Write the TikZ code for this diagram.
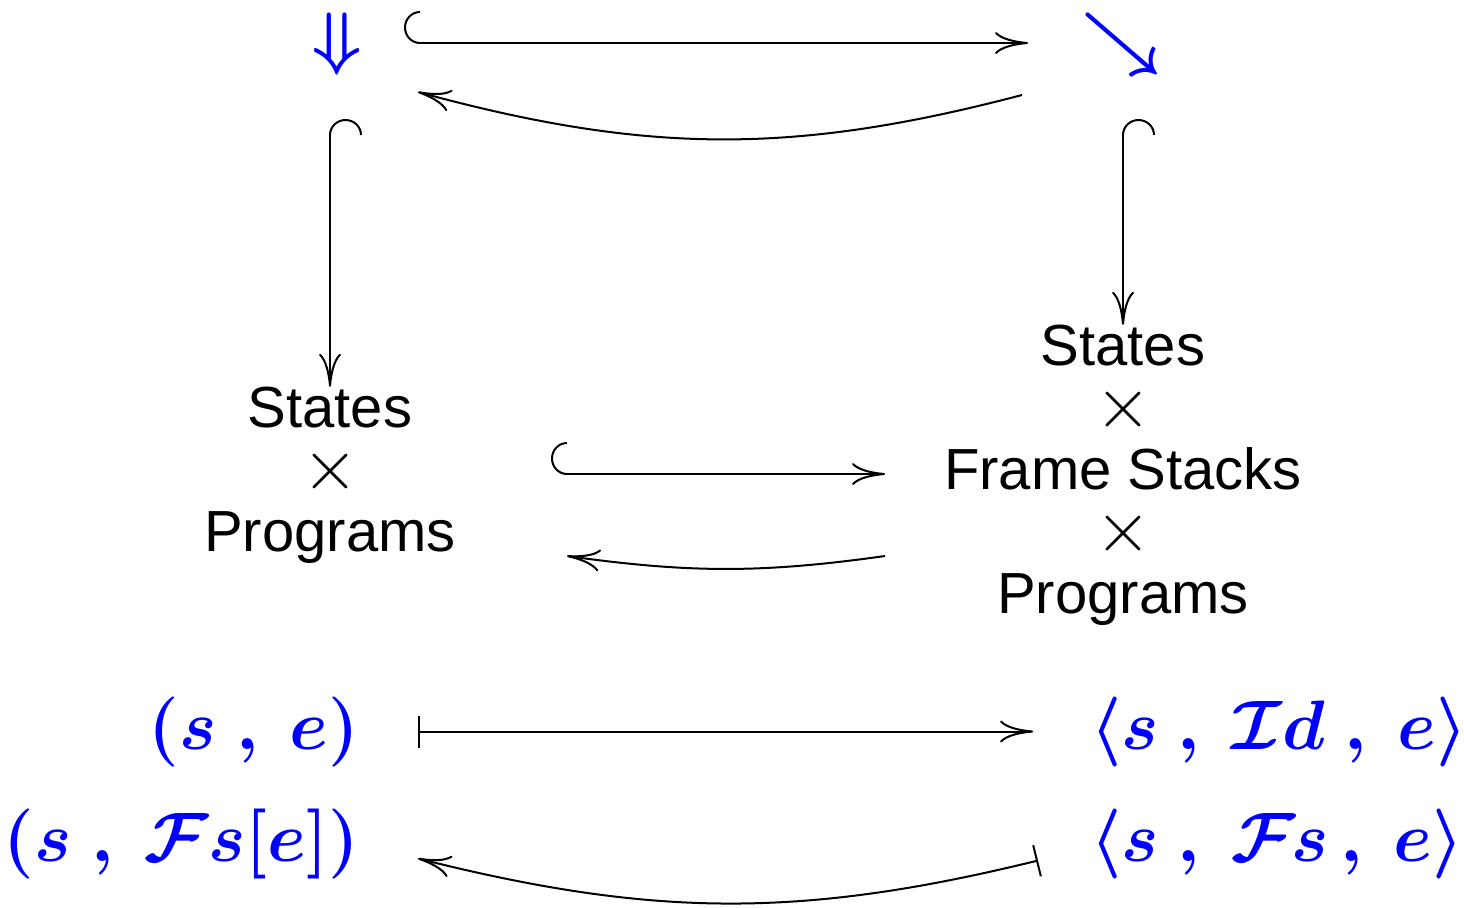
\RequirePackage{fix-cm}
\documentclass[tikz,border=0pt]{standalone}
\usepackage{amsmath,bm}
\usepackage[no-math]{fontspec}
\setmainfont{Liberation Sans}
\usetikzlibrary{arrows.meta,bending}
\definecolor{mblue}{RGB}{0,0,255}
% product sign set a little larger than the text
\newcommand{\prodsign}{{\fontsize{36}{31}\selectfont$\times$}}
\begin{document}
\begin{tikzpicture}[x=0.5pt,y=-0.5pt,
  every node/.style={inner sep=0pt,outer sep=0pt},
  settext/.style={align=center,font=\fontsize{29}{31}\selectfont},
  setmath/.style={text=mblue,font=\fontsize{35}{42}\selectfont},
  tip/.tip={Computer Modern Rightarrow[length=16.5pt,width=11pt]},
  conn/.style={line width=1pt,-tip},
  hooked/.style={line width=1pt,{Hooks[arc=180,right,length=8pt,width=32pt]}-tip},
  mapsto/.style={line width=1pt,{Bar[width=16pt]}-tip}]
\useasboundingbox (0,0) rectangle (1464,907);

% objects
\node[setmath] (dn) at (337,44) {$\bm{\Downarrow}$};
\node[setmath] (se) at (1122,44) {$\bm{\searrow}$};
\node[settext] (sp) at (330,475) {States\\\prodsign\\Programs};
\node[settext] (sfp) at (1123,475) {States\\\prodsign\\Frame Stacks\\\prodsign\\Programs};

% elements
\node[setmath,anchor=base east] (a1) at (359,749) {$\bm{(s\ ,\ e)}$};
\node[setmath,anchor=base east] (a2) at (359,861) {$\bm{(s\ ,\ \mathcal{F}s[e])}$};
\node[setmath,anchor=base west] (b1) at (1090,749) {$\bm{\langle s\ ,\ \mathcal{I}d\ ,\ e\rangle}$};
\node[setmath,anchor=base west] (b2) at (1090,861) {$\bm{\langle s\ ,\ \mathcal{F}\mkern-1mu s\mkern-2mu\ ,\ e\rangle}$};

% top square
\draw[hooked] ([shift={(67,-1)}]dn.center) -- ([shift={(-94,-1)}]se.center);
\draw[conn] ([shift={(-100,51)}]se.center) to[bend left=15] ([shift={(81,48)}]dn.center);
\draw[hooked] ([shift={(-7,75)}]dn.center) -- (sp.north);
\draw[hooked] ([shift={(1,75)}]se.center) -- (sfp.north);

% middle pair
\draw[hooked] ([shift={(221,-1)}]sp.center) -- ([shift={(-238,-1)}]sfp.center);
\draw[conn] ([shift={(-238,81)}]sfp.center) to[bend left=8] ([shift={(237,81)}]sp.center);

% element maps
\draw[mapsto] ([shift={(59,0)}]a1.east) -- ([shift={(-57,0)}]b1.west);
\draw[mapsto] ([shift={(-52,17)}]b2.west) to[bend left=14] ([shift={(59,15)}]a2.east);
\end{tikzpicture}
\end{document}
